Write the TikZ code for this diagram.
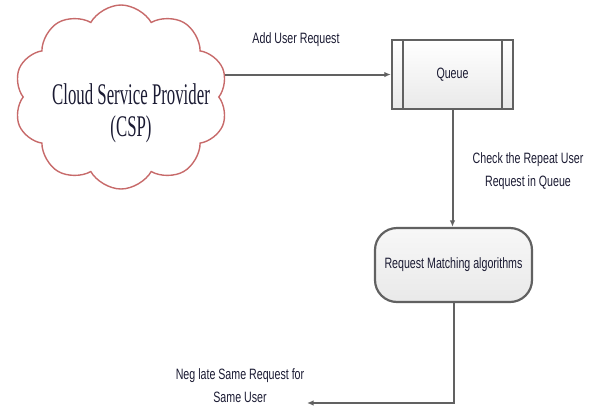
\documentclass[tikz,border=0pt]{standalone}
\usepackage{fontspec}
\usetikzlibrary{shapes.symbols,arrows.meta}
% condensed faces for the labels
\newfontfamily\narrowsans[FakeStretch=0.71]{Liberation Sans}
\newfontfamily\narrowserif[FakeStretch=0.56]{Liberation Serif}
\definecolor{linegray}{HTML}{616161}
\definecolor{cloudred}{HTML}{C76A6A}
\definecolor{inkblue}{HTML}{1B1B33}
\definecolor{boxlow}{HTML}{E9E9E9}
\tikzset{
  lbl/.style={font=\narrowsans\fontsize{15}{23}\selectfont, text=inkblue, align=center, inner sep=0pt},
  conn/.style={draw=linegray, line width=2pt},
  arr/.style={conn, -{Latex[length=6.5pt,width=5.5pt]}},
  cloudshape/.style={shape=cloud, cloud puffs=10, cloud puff arc=120, cloud ignores aspect,
    draw=cloudred, line width=1.4pt, minimum width=214pt, minimum height=184pt, inner sep=0pt},
  cloudlabel/.style={font=\narrowserif\fontsize{30}{32}\selectfont, text=inkblue, align=center, inner sep=0pt},
  qbox/.style={draw=linegray, line width=2.4pt, minimum width=121pt, minimum height=69pt,
    top color=white, bottom color=boxlow, inner sep=0pt,
    font=\narrowsans\fontsize{15}{18}\selectfont, text=inkblue,
    path picture={
      \draw[linegray, line width=2.2pt]
        ([xshift=11pt]path picture bounding box.north west) -- ([xshift=11pt]path picture bounding box.south west)
        ([xshift=-11pt]path picture bounding box.north east) -- ([xshift=-11pt]path picture bounding box.south east);
    }},
  rmbox/.style={draw=linegray, line width=2.2pt, rounded corners=22pt, minimum width=157pt, minimum height=74pt,
    top color=white!97!black, bottom color=boxlow, inner sep=0pt,
    font=\narrowsans\fontsize{15}{18}\selectfont, text=inkblue}
}
\begin{document}
\begin{tikzpicture}[x=1pt,y=-1pt]
  \useasboundingbox (0,0) rectangle (592,408);

  % provider cloud
  \node[cloudshape] (cloud) at (121,97) {};
  \node[cloudlabel] (csp) at (131,113) {Cloud Service Provider\\(CSP)};

  % queue and matching stage
  \node[qbox] (queue) at (452.5,74.5) {Queue};
  \node[rmbox] (rm) at (453.5,265) {Request Matching algorithms};
  \coordinate (negend) at (307,403);

  % connectors
  \draw[arr] (cloud.11 |- queue.west) -- (queue.west);
  \draw[arr] (queue.south) -- (queue.south |- rm.north);
  \draw[arr] (rm.south) |- (negend);

  % labels
  \node[lbl] (addlbl) at (296,40) {Add User Request};
  \node[lbl] (checklbl) at (528,171) {Check the Repeat User\\Request in Queue};
  \node[lbl] (neglbl) at (240,386) {Neg late Same Request for\\Same User};
\end{tikzpicture}
\end{document}
